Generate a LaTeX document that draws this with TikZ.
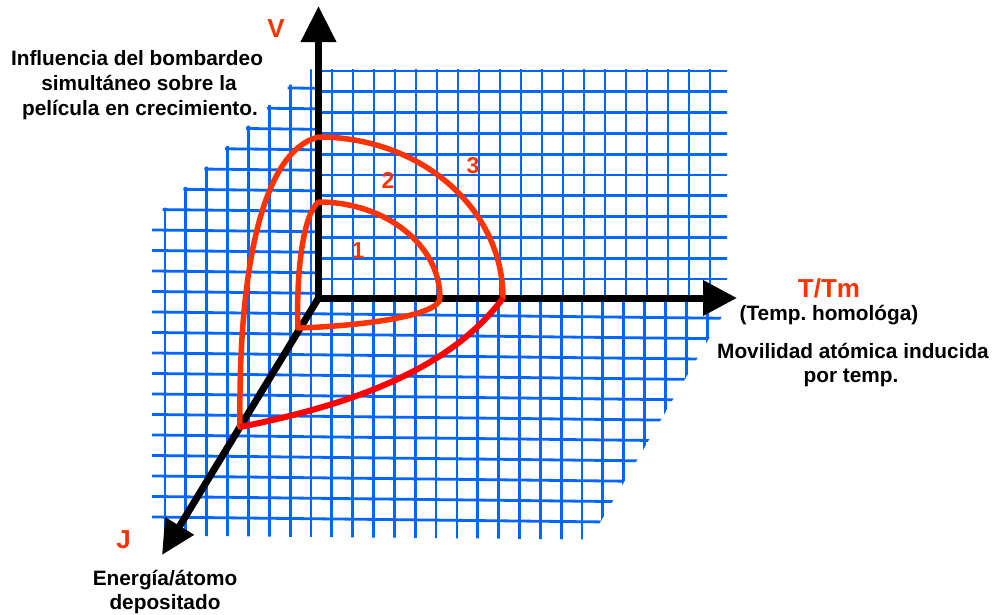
\documentclass[tikz,border=0pt]{standalone}
\usepackage{fontspec}
\setmainfont{Liberation Sans}
\usetikzlibrary{arrows.meta}
\definecolor{gridblue}{RGB}{0,102,255}
\definecolor{lblred}{RGB}{255,51,0}
\definecolor{purered}{RGB}{255,0,0}
\frenchspacing
\begin{document}
\begin{tikzpicture}[x=1pt,y=-1pt,
  gridline/.style={draw=gridblue,line width=2.8pt},
  axisline/.style={draw=black,line width=7pt},
  curveline/.style={draw=lblred,line width=5.5pt,line join=round,line cap=round},
  jtline/.style={draw=purered,line width=6pt},
  bodytext/.style={inner sep=0pt,anchor=base,font=\fontsize{20.8}{25}\selectfont\bfseries},
  redlabel/.style={inner sep=0pt,anchor=base,text=lblred,font=\fontsize{26}{30}\selectfont\bfseries},
  numlabel/.style={inner sep=0pt,anchor=base,text=lblred,font=\fontsize{23}{27}\selectfont\bfseries}]
\useasboundingbox (0,0) rectangle (994,614);

% grid: left and lower planes
\begin{scope}
\clip (152,535.5) -- (152,220) -- (162.6,220) -- (162.6,207.6) -- (183.45,207.6) -- (183.45,187.1)
  -- (204.3,187.1) -- (204.3,166.6) -- (225.15,166.6) -- (225.15,146.1) -- (246,146.1)
  -- (246,125.6) -- (266.85,125.6) -- (266.85,105.1) -- (287.7,105.1) -- (287.7,84.6)
  -- (308.55,84.6) -- (308.55,69.3) -- (318.5,69.3) -- (318.5,298) -- (727,298) -- (727,308)
  -- (590,539.5) -- cycle;
\foreach \i in {0,...,26} \draw[gridline] ({165+20.85*\i},60) -- ({165+20.85*\i},560);
\foreach \j in {0,...,22} \draw[gridline] (140,{87+20.5*\j+0.011*(140-200)}) -- (740,{87+20.5*\j+0.011*(740-200)});
\end{scope}

% grid: upper right plane
\begin{scope}
\clip (318.5,69.3) rectangle (727,298);
\foreach \m in {0,...,19} \draw[gridline] ({710-21*\m},60) -- ({710-21*\m},300);
\foreach \k in {0,...,11} \draw[gridline] (310,{71+20.8*\k}) -- (735,{71+20.8*\k});
\end{scope}

% axes
\coordinate (O) at (318.5,298);
\coordinate (Vtip) at (318.5,6);
\coordinate (Ttip) at (737,298);
\coordinate (Jtip) at (162,555);
\draw[axisline,{Triangle[length=36pt,width=34pt]}-{Triangle[length=34pt,width=34pt]}] (Vtip) -- (O) -- (Ttip);
\draw[axisline,line cap=round,-{Triangle[length=34pt,width=32pt]}] (O) -- (Jtip);

% curves
\draw[curveline] (298,328) .. controls (296,280) and (302,215) .. (318.5,202)
  .. controls (385.6,202) and (440,245) .. (440,298)
  .. controls (440,316) and (360,326) .. (298,328) -- cycle;
\draw[curveline] (240,427) .. controls (238,260) and (265,150) .. (318.5,137)
  .. controls (421,137) and (503,209) .. (503,298);
\draw[jtline] (240,427) .. controls (350,405) and (450,370) .. (503,298);

% labels
\node[redlabel] (Vlab) at (276,37) {V};
\node[redlabel] (Tlab) at (829,297) {T/Tm};
\node[redlabel] (Jlab) at (123.5,548) {J};
\node[numlabel] (n1) at (358,258) {1};
\node[numlabel] (n2) at (388,188) {2};
\node[numlabel] (n3) at (473,173) {3};

\node[bodytext] (infl1) at (137,65) {Influencia del bombardeo};
\node[bodytext] (infl2) at (139,90) {simultáneo sobre la};
\node[bodytext] (infl3) at (140,115) {película en crecimiento.};

\node[bodytext] (temp) at (829,320) {(Temp. homológa)};
\node[bodytext] (mov1) at (853,358) {Movilidad atómica inducida};
\node[bodytext] (mov2) at (851,382) {por temp.};

\node[bodytext] (ener1) at (165,585) {Energía/átomo};
\node[bodytext] (ener2) at (165,609) {depositado};
\end{tikzpicture}
\end{document}
